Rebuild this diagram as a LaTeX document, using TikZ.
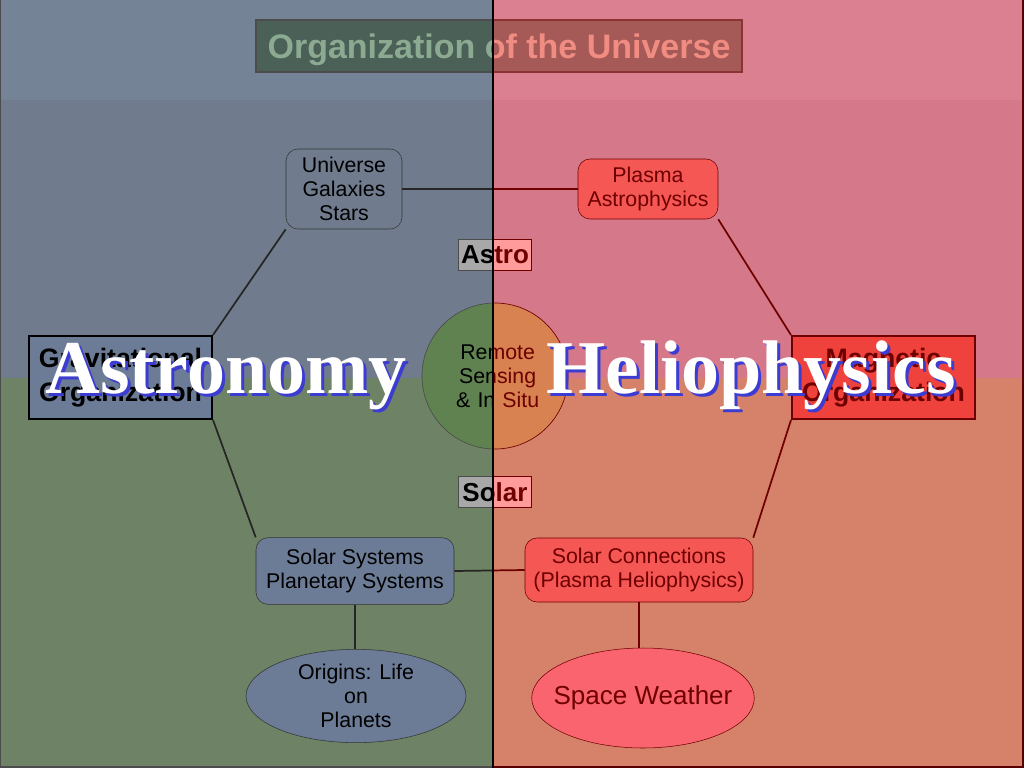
\documentclass[tikz,border=0pt]{standalone}
\usepackage{fontspec}
\usetikzlibrary{shapes.geometric}
\setmainfont{Liberation Sans}
\newfontfamily\timesfont{Liberation Serif}
\definecolor{bandL}{RGB}{117,131,151}
\definecolor{upL}{RGB}{112,124,142}
\definecolor{lowL}{RGB}{110,131,101}
\definecolor{bandR}{RGB}{219,128,145}
\definecolor{upR}{RGB}{213,121,138}
\definecolor{lowR}{RGB}{214,130,107}
\definecolor{nodeL}{RGB}{108,124,150}
\definecolor{nodeR}{RGB}{245,87,85}
\definecolor{magR}{RGB}{240,66,60}
\definecolor{wxR}{RGB}{250,100,110}
\definecolor{inkR}{RGB}{110,0,0}
\definecolor{headL}{RGB}{75,96,86}
\definecolor{headR}{RGB}{166,90,88}
\definecolor{headinkL}{RGB}{140,170,145}
\definecolor{headinkR}{RGB}{240,140,130}
\definecolor{tagL}{RGB}{168,168,168}
\definecolor{tagR}{RGB}{255,155,155}
\definecolor{hubL}{RGB}{95,130,80}
\definecolor{hubR}{RGB}{215,130,80}
\definecolor{shade}{RGB}{60,60,210}
\begin{document}
\begin{tikzpicture}[x=0.75pt,y=-0.75pt,
	txt/.style={align=center,font=\fontsize{16}{18}\selectfont,inner sep=1pt},
	roundbox/.style={txt,draw,rounded corners=9pt},
	orgbox/.style={align=center,font=\fontsize{20}{25.5}\selectfont\bfseries,draw,line width=1.8pt,minimum width=137pt,minimum height=62pt},
	blob/.style={txt,draw,ellipse,inner sep=0pt},
	tag/.style={draw,font=\fontsize{19.5}{22}\selectfont\bfseries,minimum width=55pt,minimum height=23.5pt,inner sep=0pt},
	hub/.style={txt,draw,circle,minimum size=109.5pt,inner sep=0pt,line width=0.5pt},
	head/.style={draw,line width=0.8pt,font=\fontsize{25.5}{28}\selectfont\bfseries,text depth=0pt,minimum width=364.5pt,minimum height=39pt,inner sep=0pt},
	big/.style={font=\fontsize{57}{60}\selectfont\timesfont\bfseries,anchor=base,inner sep=0pt},
	link/.style={line width=1.3pt}]
	\useasboundingbox (0,0) rectangle (1024,768);
	% background
	\fill[upL] (0,0) rectangle (493,378);
	\fill[bandL] (0,0) rectangle (493,100);
	\fill[lowL] (0,378) rectangle (493,768);
	\fill[upR] (493,0) rectangle (1024,378);
	\fill[bandR] (493,0) rectangle (1024,100);
	\fill[lowR] (493,378) rectangle (1024,768);
	\draw[black!70,line width=1.5pt] (0,0)--(0,767)--(493,767);
	\draw[inkR!80!black,line width=1.5pt] (493,767)--(1023,767)--(1023,0);
	% nodes
	\node[roundbox,fill=upL,draw=black!80,minimum width=87pt,minimum height=60pt] (univ) at (344,189) {Universe\\Galaxies\\Stars};
	\node[roundbox,fill=nodeR,draw=inkR,text=inkR,minimum width=105pt,minimum height=45pt] (plasma) at (648,189) {Plasma\\Astrophysics};
	\node[orgbox,fill=nodeL,draw=black] (grav) at (120.5,377.5) {Gravitational\\Organization};
	\node[orgbox,fill=magR,draw=inkR,text=inkR] (magn) at (883.5,377.5) {Magnetic\\Organization};
	\node[roundbox,fill=nodeL,draw=black!80,minimum width=148.5pt,minimum height=50pt] (solsys) at (355,571) {Solar Systems\\Planetary Systems};
	\node[roundbox,fill=nodeR,draw=inkR,text=inkR,minimum width=171pt,minimum height=48pt] (solcon) at (639,570) {Solar Connections\\(Plasma Heliophysics)};
	\node[blob,fill=nodeL,draw=black!80,minimum width=165pt,minimum height=70pt] (orig) at (356,696) {Origins: Life\\on\\Planets};
	\node[blob,fill=wxR,draw=inkR,text=inkR,minimum width=165pt,minimum height=75pt,inner xsep=-8pt,font=\fontsize{19.5}{22}\selectfont] (wx) at (643,698) {Space Weather};
	% connectors
	\draw[link,black!85] (univ.south west)--(grav.north east);
	\draw[link,black!85] (grav.south east)--(solsys.north west);
	\draw[link,black!85] (solsys.south)--(solsys.south |- orig.north);
	\draw[link,inkR] (plasma.south east)--(magn.north west);
	\draw[link,inkR] (magn.south west)--(solcon.north east);
	\draw[link,inkR] (solcon.south)--(solcon.south |- wx.north);
	% left half of the split pieces
	\begin{scope}
		\clip (0,0) rectangle (493,768);
		\draw[link,black!85] (univ.east)--(plasma.west);
		\draw[link,black!85] (solsys.east)--(solcon.west);
		\node[head,fill=headL,draw=black!70,text=headinkL] (headA) at (499,46) {Organization of the Universe};
		\node[tag,fill=tagL,draw=black!70] (astroA) at (495,254.5) {Astro};
		\node[tag,fill=tagL,draw=black!70] (solarA) at (495,492) {Solar};
		\node[hub,fill=hubL,draw=black!70,text width=80pt] (hubA) at (495,376) {\hspace*{4pt}Remote\\\hspace*{4pt}Sensing\\\hspace*{4pt}\& In Situ};
	\end{scope}
	% right half of the split pieces
	\begin{scope}
		\clip (493,0) rectangle (1024,768);
		\draw[link,inkR] (univ.east)--(plasma.west);
		\draw[link,inkR] (solsys.east)--(solcon.west);
		\node[head,fill=headR,draw=inkR!80,text=headinkR] (headB) at (499,46) {Organization of the Universe};
		\node[tag,fill=tagR,draw=inkR,text=inkR] (astroB) at (495,254.5) {Astro};
		\node[tag,fill=tagR,draw=inkR,text=inkR] (solarB) at (495,492) {Solar};
		\node[hub,fill=hubR,draw=inkR,text=inkR,text width=80pt] (hubB) at (495,376) {\hspace*{4pt}Remote\\\hspace*{4pt}Sensing\\\hspace*{4pt}\& In Situ};
	\end{scope}
	\draw[black,line width=1.2pt] (493,0)--(493,768);
	% big titles
	\node[big,text=shade] (astroshade) at (229,396) {Astronomy};
	\node[big,text=white] (astronomy) at (226,393) {Astronomy};
	\node[big,text=shade] (helioshade) at (754,396) {Heliophysics};
	\node[big,text=white] (helio) at (751,393) {Heliophysics};
\end{tikzpicture}
\end{document}
